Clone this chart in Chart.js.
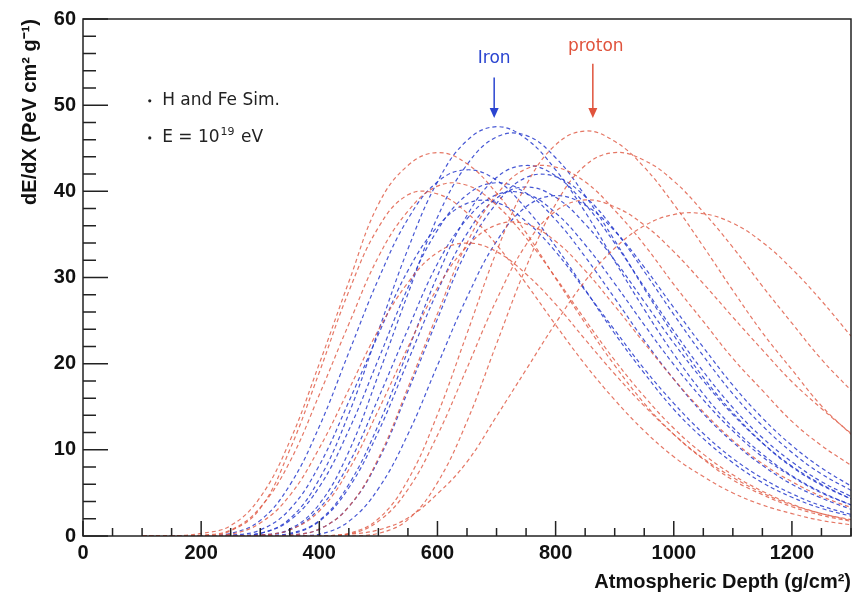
<!doctype html>
<html>
<head>
<meta charset="utf-8" />
<title>dE/dX profiles</title>
<script src="https://cdn.jsdelivr.net/npm/chart.js@4.4.1/dist/chart.umd.min.js"></script>
<style>
  body { margin: 0; background: #fff; }
</style>
</head>
<body>
<canvas id="profil" width="855" height="596"></canvas>
<script>
// atmospheric depth grid (g/cm2)
const depth = [100,150,200,250,300,350,400,450,500,550,600,650,700,750,800,850,900,950,1000,1050,1100,1150,1200,1250,1300];

// iron showers
const iron1  = [0,0,0,0,0.3,2.0,6.6,14.2,23.8,33.3,41.1,45.9,47.5,46.1,42.5,37.6,31.9,26.3,21.1,16.5,12.6,9.5,7.0,5.1,3.6];
const iron2  = [0,0,0,0,0.1,0.8,3.7,9.8,18.7,28.1,37.0,43.1,46.3,46.5,43.9,39.5,34.3,28.7,23.3,18.4,14.3,10.8,8.0,5.9,4.3];
const iron3  = [0,0,0,0.3,1.8,5.9,12.7,21.3,29.8,36.8,41.1,42.5,41.3,38.0,33.6,28.6,23.5,18.9,14.7,11.3,8.5,6.2,4.5,3.2,2.3];
const iron4  = [0,0,0,0,0,0.3,1.8,6.0,12.9,21.5,30.2,37.2,41.6,43.0,41.8,38.5,34.0,28.9,23.8,19.1,14.9,11.4,8.6,6.3,4.6];
const iron5  = [0,0,0,0,0,0.1,0.8,3.4,8.8,16.8,25.2,33.2,38.6,41.6,41.7,39.4,35.5,30.7,25.7,20.9,16.5,12.8,9.7,7.2,5.3];
const iron6  = [0,0,0,0,0.3,1.8,5.7,12.3,20.5,28.8,35.5,39.6,41.0,39.8,36.7,32.4,27.6,22.7,18.2,14.2,10.9,8.2,6.0,4.4,3.1];
const iron7  = [0,0,0,0,0.1,0.7,3.2,8.4,16.0,24.0,31.6,36.8,39.6,39.7,37.5,33.8,29.3,24.5,19.9,15.8,12.2,9.2,6.9,5.0,3.6];
const iron8  = [0,0,0,0,0,0,0.2,1.7,5.5,11.8,19.8,27.7,34.2,38.2,39.5,38.4,35.4,31.2,26.5,21.9,17.5,13.7,10.5,7.9,5.8];
const iron9  = [0,0,0,0.1,0.7,3.1,8.2,15.6,23.4,30.8,35.9,38.6,38.7,36.5,33.0,28.5,23.9,19.4,15.4,11.9,9.0,6.7,4.9,3.5,2.5];
const iron10 = [0,0,0,0,0,0.2,1.7,5.6,12.1,20.3,28.4,35.1,39.2,40.5,39.3,36.2,32.0,27.2,22.4,18.0,14.1,10.8,8.1,6.0,4.3];

// proton showers
const prot1  = [0,0,0,0,0,0,0,0.3,2.0,6.5,14.1,23.5,33.0,40.7,45.4,47.0,45.8,42.8,38.5,33.6,28.5,23.6,19.3,15.1,11.8];
const prot2  = [0,0,0,0,0,0,0,0,0.3,1.9,6.2,13.3,22.3,31.2,38.5,43.0,44.5,43.6,41.2,37.6,33.5,29.0,24.7,20.5,16.9];
const prot3  = [0,0,0.3,1.2,4.5,11.0,20.0,29.5,38.5,43.0,44.5,43.2,39.8,35.2,29.9,24.7,19.8,15.4,11.8,8.9,6.5,4.8,3.4,2.4,1.7];
const prot4  = [0,0,0,0,0,0,0,0.2,0.7,2.1,4.9,8.6,13.9,19.3,24.7,29.6,33.4,36.0,37.3,37.4,36.3,34.1,31.0,27.3,23.2];
const prot5  = [0,0,0,0,0,0.1,0.8,3.4,9.0,17.2,25.8,34.0,39.6,42.6,42.8,41.1,37.8,33.8,29.2,24.9,20.6,16.9,13.3,10.5,8.2];
const prot6  = [0,0,0,0.6,3.2,10.0,19.0,28.4,35.8,39.6,39.7,37.5,33.8,29.3,24.5,19.9,15.8,12.2,9.2,6.9,5.0,3.6,2.6,1.8,1.3];
const prot7  = [0,0,0,0,0.1,0.7,2.9,7.7,14.6,21.9,28.8,33.6,36.1,36.2,34.2,30.8,26.7,22.4,18.2,14.4,11.1,8.4,6.3,4.6,3.3];
const prot8  = [0,0,0.1,0.7,3.3,8.6,16.4,24.6,32.4,37.7,40.6,40.7,38.4,34.6,30.0,25.1,20.4,16.2,12.5,9.5,7.1,5.2,3.7,2.6,1.9];
const prot9  = [0,0,0,0,0,0,0,0.2,1.7,5.4,11.7,19.5,27.4,33.8,37.7,39.0,38.2,36.1,33.0,29.3,25.4,21.6,17.9,14.8,11.9];
const prot10 = [0,0,0,0.2,1.5,4.7,10.2,17.0,23.9,29.4,32.9,34.0,33.0,30.4,26.9,22.8,18.8,15.1,11.8,9.0,6.8,5.0,3.6,2.6,1.8];

const xTicks = [0,200,400,600,800,1000,1200];
const yTicks = [0,10,20,30,40,50,60];

const protonen = [prot1,prot2,prot3,prot4,prot5,prot6,prot7,prot8,prot9,prot10];
const eisen = [iron1,iron2,iron3,iron4,iron5,iron6,iron7,iron8,iron9,iron10];

const rot = 'rgba(222,85,62,0.8)';
const blau = 'rgba(38,58,205,0.85)';

function kurve(werte, farbe) {
    return {
        data: werte.map((v, i) => ({ x: depth[i], y: v })),
        borderColor: farbe,
        borderWidth: 1.2,
        borderDash: [4, 3],
        pointRadius: 0,
        tension: 0.4,
        fill: false
    };
}

const datensaetze = protonen.map(w => kurve(w, rot)).concat(eisen.map(w => kurve(w, blau)));

const fett = { family: 'Liberation Sans', size: 20, weight: 'bold' };

// inner ticks, frame and the text notes
const rahmen = {
    id: 'rahmen',
    afterDatasetsDraw(chart) {
        const { ctx, chartArea: a, scales: { x, y } } = chart;
        ctx.save();
        ctx.strokeStyle = '#222';
        ctx.lineWidth = 1.5;
        ctx.strokeRect(a.left, a.top, a.right - a.left, a.bottom - a.top);
        ctx.beginPath();
        for (let v = 0; v <= 1300; v += 50) {
            const px = x.getPixelForValue(v);
            const len = v % 200 === 0 ? 15 : 8;
            ctx.moveTo(px, a.bottom);
            ctx.lineTo(px, a.bottom - len);
        }
        for (let v = 0; v <= 60; v += 2) {
            const py = y.getPixelForValue(v);
            const len = v % 10 === 0 ? 25 : 13;
            ctx.moveTo(a.left, py);
            ctx.lineTo(a.left + len, py);
        }
        ctx.stroke();

        // arrows
        function pfeil(xv, y1, y2, farbe) {
            const px = x.getPixelForValue(xv);
            const p1 = y.getPixelForValue(y1);
            const p2 = y.getPixelForValue(y2);
            ctx.strokeStyle = farbe;
            ctx.fillStyle = farbe;
            ctx.lineWidth = 1.5;
            ctx.beginPath();
            ctx.moveTo(px, p1);
            ctx.lineTo(px, p2 - 8);
            ctx.stroke();
            ctx.beginPath();
            ctx.moveTo(px - 4.5, p2 - 10);
            ctx.lineTo(px + 4.5, p2 - 10);
            ctx.lineTo(px, p2);
            ctx.closePath();
            ctx.fill();
        }
        pfeil(696, 53.2, 48.5, '#2a44d0');
        pfeil(863, 54.8, 48.5, '#e0533c');

        ctx.font = '17px "DejaVu Sans"';
        ctx.textBaseline = 'middle';
        ctx.textAlign = 'center';
        ctx.fillStyle = '#2a44d0';
        ctx.fillText('Iron', x.getPixelForValue(696), y.getPixelForValue(55.4));
        ctx.fillStyle = '#e0533c';
        ctx.fillText('proton', x.getPixelForValue(868), y.getPixelForValue(56.8));

        // notes
        ctx.fillStyle = '#222';
        ctx.textAlign = 'left';
        const bx = x.getPixelForValue(113);
        const tx = x.getPixelForValue(134);
        const z1 = y.getPixelForValue(50.5);
        const z2 = y.getPixelForValue(46.2);
        ctx.beginPath(); ctx.arc(bx, z1, 1.6, 0, 2 * Math.PI); ctx.fill();
        ctx.beginPath(); ctx.arc(bx, z2, 1.6, 0, 2 * Math.PI); ctx.fill();
        ctx.fillText('H and Fe Sim.', tx, z1);
        let w = ctx.measureText('E = 10').width;
        ctx.fillText('E = 10', tx, z2);
        ctx.font = '11px "DejaVu Sans"';
        ctx.fillText('19', tx + w + 1, z2 - 6);
        const w2 = ctx.measureText('19').width;
        ctx.font = '17px "DejaVu Sans"';
        ctx.fillText(' eV', tx + w + w2 + 2, z2);
        ctx.restore();
    }
};

new Chart(document.getElementById('profil'), {
    type: 'line',
    data: { datasets: datensaetze },
    options: {
        responsive: false,
        animation: false,
        layout: { padding: { top: 18, right: 4, left: 0, bottom: 0 } },
        plugins: { legend: { display: false }, tooltip: { enabled: false } },
        scales: {
            x: {
                type: 'linear', min: 0, max: 1300,
                afterBuildTicks: s => { s.ticks = xTicks.map(v => ({ value: v })); },
                afterFit: s => { s.height = 60; },
                grid: { display: false, drawTicks: false },
                border: { display: false },
                ticks: { font: fett, color: '#111', padding: 5, maxRotation: 0, autoSkip: false, callback: v => String(v) },
                title: { display: true, text: 'Atmospheric Depth (g/cm²)', align: 'end', font: fett, color: '#111', padding: { top: 0, bottom: 2 } }
            },
            y: {
                min: 0, max: 60,
                afterBuildTicks: s => { s.ticks = yTicks.map(v => ({ value: v })); },
                afterFit: s => { s.width = 83; },
                grid: { display: false, drawTicks: false },
                border: { display: false },
                ticks: { font: fett, color: '#111', padding: 7, callback: v => String(v) },
                title: { display: true, text: 'dE/dX (PeV cm² g⁻¹)', align: 'end', font: fett, color: '#111', padding: { top: 18, bottom: 0 } }
            }
        }
    },
    plugins: [rahmen]
});
</script>
</body>
</html>
